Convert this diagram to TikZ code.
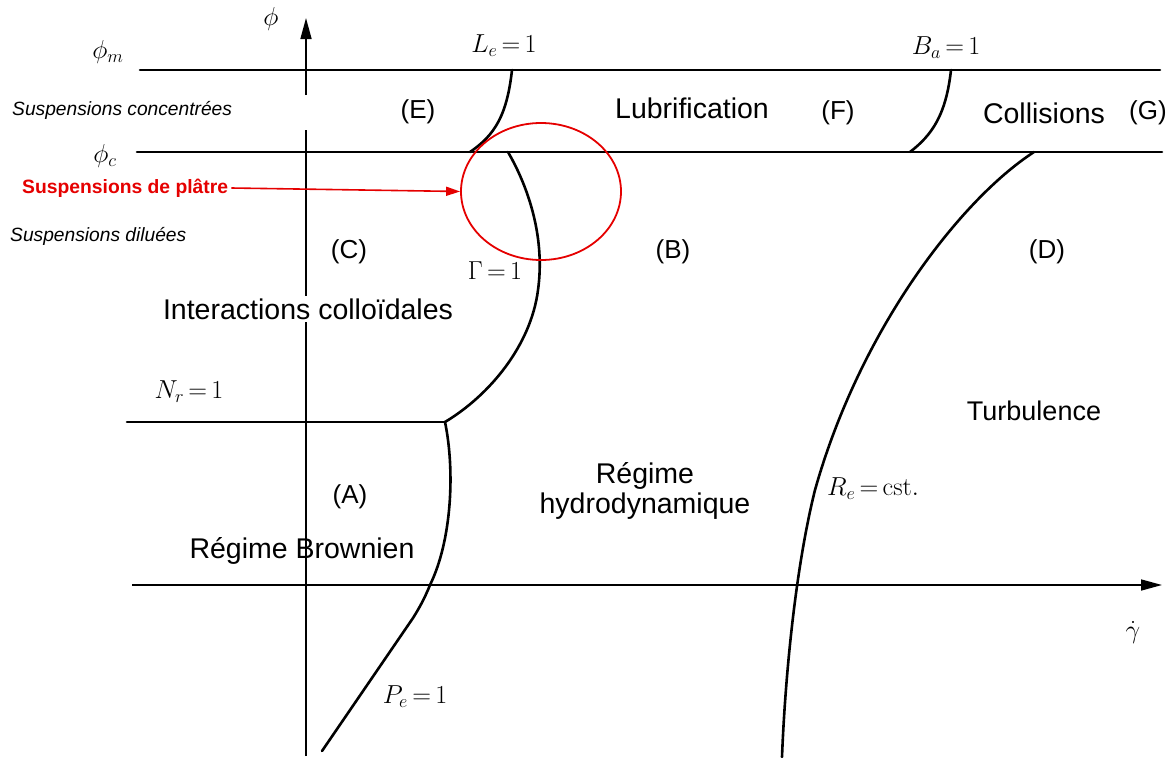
\RequirePackage{fix-cm}
\documentclass[tikz,border=0pt]{standalone}
\usepackage{fontspec}
\newfontfamily\arial{Liberation Sans}
\usetikzlibrary{arrows.meta,shapes.geometric}
\newcommand\qeq{\mkern3mu{=}\mkern3mu}
\begin{document}
\begin{tikzpicture}[x=1pt,y=-1pt,
  bound/.style={line width=2.6pt,line cap=round},
  axisln/.style={line width=1.6pt},
  big/.style={font=\arial\fontsize{28.5}{30}\selectfont,inner sep=1pt,text=black},
  letter/.style={font=\arial\fontsize{26}{30}\selectfont,inner sep=1pt,text=black},
  side/.style={font=\arial\itshape\fontsize{19.2}{22}\selectfont,inner sep=0pt,text=black},
  mlbl/.style={font=\fontsize{26}{30}\selectfont,inner sep=1pt},
  tip/.style={-{Triangle[length=21pt,width=11pt]}}
]
\useasboundingbox (0,0) rectangle (1176,758);

% coordinates
\coordinate (vbot) at (306,756);
\coordinate (vg2) at (306,130);
\coordinate (vg3) at (306,95);
\coordinate (vtop) at (306,18);
\coordinate (hl) at (132,585);
\coordinate (hr) at (1162,585);
\coordinate (ml) at (140,70);
\coordinate (mr) at (1160,70);
\coordinate (cl) at (137,152);
\coordinate (cr) at (1162,152);
\coordinate (nl) at (127,422);
\coordinate (nr) at (445,422);
\coordinate (le1) at (512,70);
\coordinate (le2) at (470,152);
\coordinate (ba1) at (951,70);
\coordinate (ba2) at (910,152);
\coordinate (g1) at (508,152);
\coordinate (pe2) at (322,751);
\coordinate (re1) at (1034,152);
\coordinate (re2) at (782,757);

% axes
\draw[axisln] (vbot) -- (vg2);
\draw[axisln,tip] (vg3) -- (vtop);
\draw[axisln,tip] (hl) -- (hr);

% boundaries
\draw[bound] (ml) -- (mr);
\draw[bound] (cl) -- (cr);
\draw[bound] (nl) -- (nr);
\draw[bound] (le1) .. controls (507,115) and (495,135) .. (le2);
\draw[bound] (ba1) .. controls (946,115) and (932,135) .. (ba2);
\draw[bound] (g1) .. controls (530,190) and (545,240) .. (538,290)
  .. controls (531,345) and (490,395) .. (nr);
\draw[bound] (nr) .. controls (455,470) and (452,540) .. (430,585)
  .. controls (424,600) and (418,610) .. (413,618) -- (pe2);
\draw[bound] (re1) .. controls (960,200) and (860,330) .. (815,490)
  .. controls (795,570) and (785,680) .. (re2);

% math labels
\node[mlbl] (phi) at (271,19) {$\phi$};
\node[mlbl] (phim) at (108,52) {$\phi_m$};
\node[mlbl] (phic) at (105,156) {$\phi_c$};
\node[mlbl] (Le) at (504,46) {$L_e\qeq1$};
\node[mlbl] (Ba) at (946,48) {$B_a\qeq1$};
\node[mlbl] (Gam) at (495,271) {$\Gamma\qeq1$};
\node[mlbl] (Nr) at (189,392) {$N_r\qeq1$};
\node[mlbl,anchor=west] (Re) at (826,489) {$R_e\qeq\mathrm{cst.}$};
\node[mlbl] (Pe) at (415,697) {$P_e\qeq1$};
\node[mlbl,inner sep=0pt] (gd) at (1133,632) {$\dot\gamma$};

% side labels
\node[side,anchor=west] (sc) at (12,110) {Suspensions concentrées};
\node[side,anchor=west] (sd) at (10,236) {Suspensions diluées};
\node[font=\arial\bfseries\fontsize{19.3}{22}\selectfont,text=red!90!black,anchor=west,inner sep=0pt] (sp) at (22,188) {Suspensions de plâtre};
\node[draw=red!90!black,line width=1.8pt,ellipse,minimum width=160pt,minimum height=137pt,inner sep=0pt] (circ) at (541,191.5) {};
\draw[red!90!black,line width=1.6pt,-{Triangle[length=14pt,width=9pt]}] (sp.east) ++(3,0) -- (circ.west);

% region labels
\node[letter] (E) at (418,112) {(E)};
\node[big] (Lub) at (692,108) {Lubrification};
\node[letter] (F) at (838,113) {(F)};
\node[big] (Col) at (1044,113) {Collisions};
\node[letter] (G) at (1148,113) {(G)};
\node[letter] (C) at (349,252) {(C)};
\node[letter] (B) at (673,252) {(B)};
\node[letter] (D) at (1047,252) {(D)};
\node[big,fill=white,inner sep=3pt] (Int) at (308,309) {Interactions colloïdales};
\node[big,font=\arial\fontsize{27}{30}\selectfont] (Tur) at (1034,411) {Turbulence};
\node[letter] (A) at (350,497) {(A)};
\node[big,align=center,font=\arial\fontsize{28.5}{29.5}\selectfont] (Hyd) at (645,491) {Régime\\hydrodynamique};
\node[big] (Bro) at (302,551) {Régime Brownien};
\end{tikzpicture}
\end{document}
